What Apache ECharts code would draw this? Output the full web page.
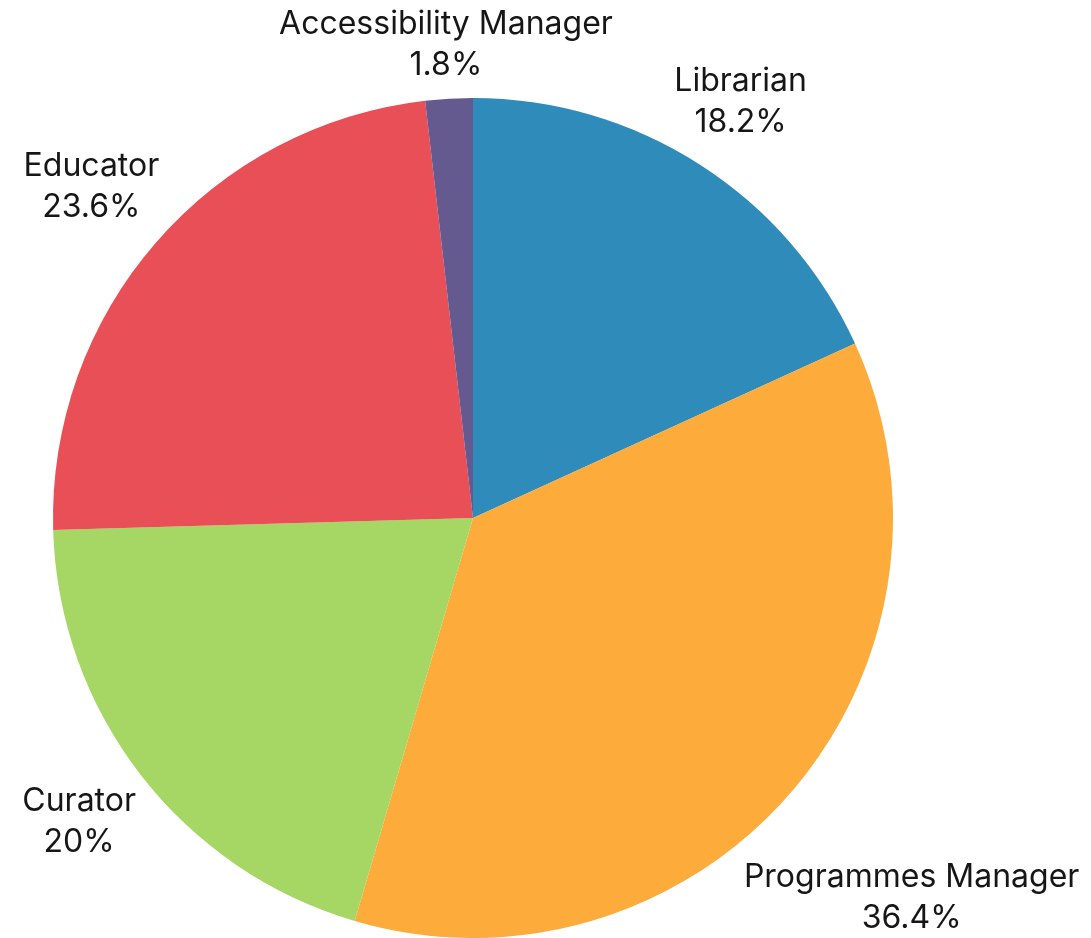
<!DOCTYPE html>
<html>
<head>
<meta charset="utf-8">
<script src="https://cdn.jsdelivr.net/npm/echarts@6/dist/echarts.min.js"></script>
<style>
    html, body { margin: 0; padding: 0; background: #fff; }
    #main { width: 1091px; height: 938px; }
</style>
</head>
<body>
<div id="main"></div>
<script>
// 数据
var roles = ['Librarian', 'Programmes Manager', 'Curator', 'Educator', 'Accessibility Manager'];
var counts = [10, 20, 11, 13, 1];
var palette = ['#2e8bba', '#fdab3a', '#a6d664', '#e94f57', '#645a8f'];

var cx = 473, cy = 518, R = 420;
var labelFont = 'Inter', labelSize = 32;
var total = counts.reduce(function (a, b) { return a + b; }, 0);

// 用来量文字宽度
var ctx = document.createElement('canvas').getContext('2d');
ctx.font = labelSize + 'px "' + labelFont + '"';

var chart = echarts.init(document.getElementById('main'));

var option = {
    backgroundColor: '#fff',
    color: palette,
    animation: false,
    series: [{
        type: 'pie',
        center: [cx, cy],
        radius: R,
        startAngle: 90,
        clockwise: true,
        percentPrecision: 1,
        itemStyle: { borderWidth: 0 },
        label: {
            show: true,
            position: 'outside',
            formatter: '{b}\n{d}%',
            fontFamily: labelFont,
            fontSize: labelSize,
            lineHeight: 41,
            color: '#161616',
            overflow: 'none'
        },
        labelLine: { show: false },
        // 标签放在扇区中线方向的外面
        labelLayout: function (p) {
            var before = 0;
            for (var i = 0; i < p.dataIndex; i++) before += counts[i];
            var mid = (before + counts[p.dataIndex] / 2) / total * 2 * Math.PI;
            var ux = Math.sin(mid), uy = -Math.cos(mid);
            var hw = Math.max.apply(null, p.text.split('\n').map(function (s) {
                return ctx.measureText(s).width;
            })) / 2;
            var d = R + 14 + Math.abs(ux) * hw + Math.abs(uy) * 30;
            return { x: cx + ux * d, y: cy + uy * d, align: 'center', verticalAlign: 'middle' };
        },
        data: roles.map(function (r, i) { return { name: r, value: counts[i] }; })
    }]
};

chart.setOption(option);
</script>
</body>
</html>
